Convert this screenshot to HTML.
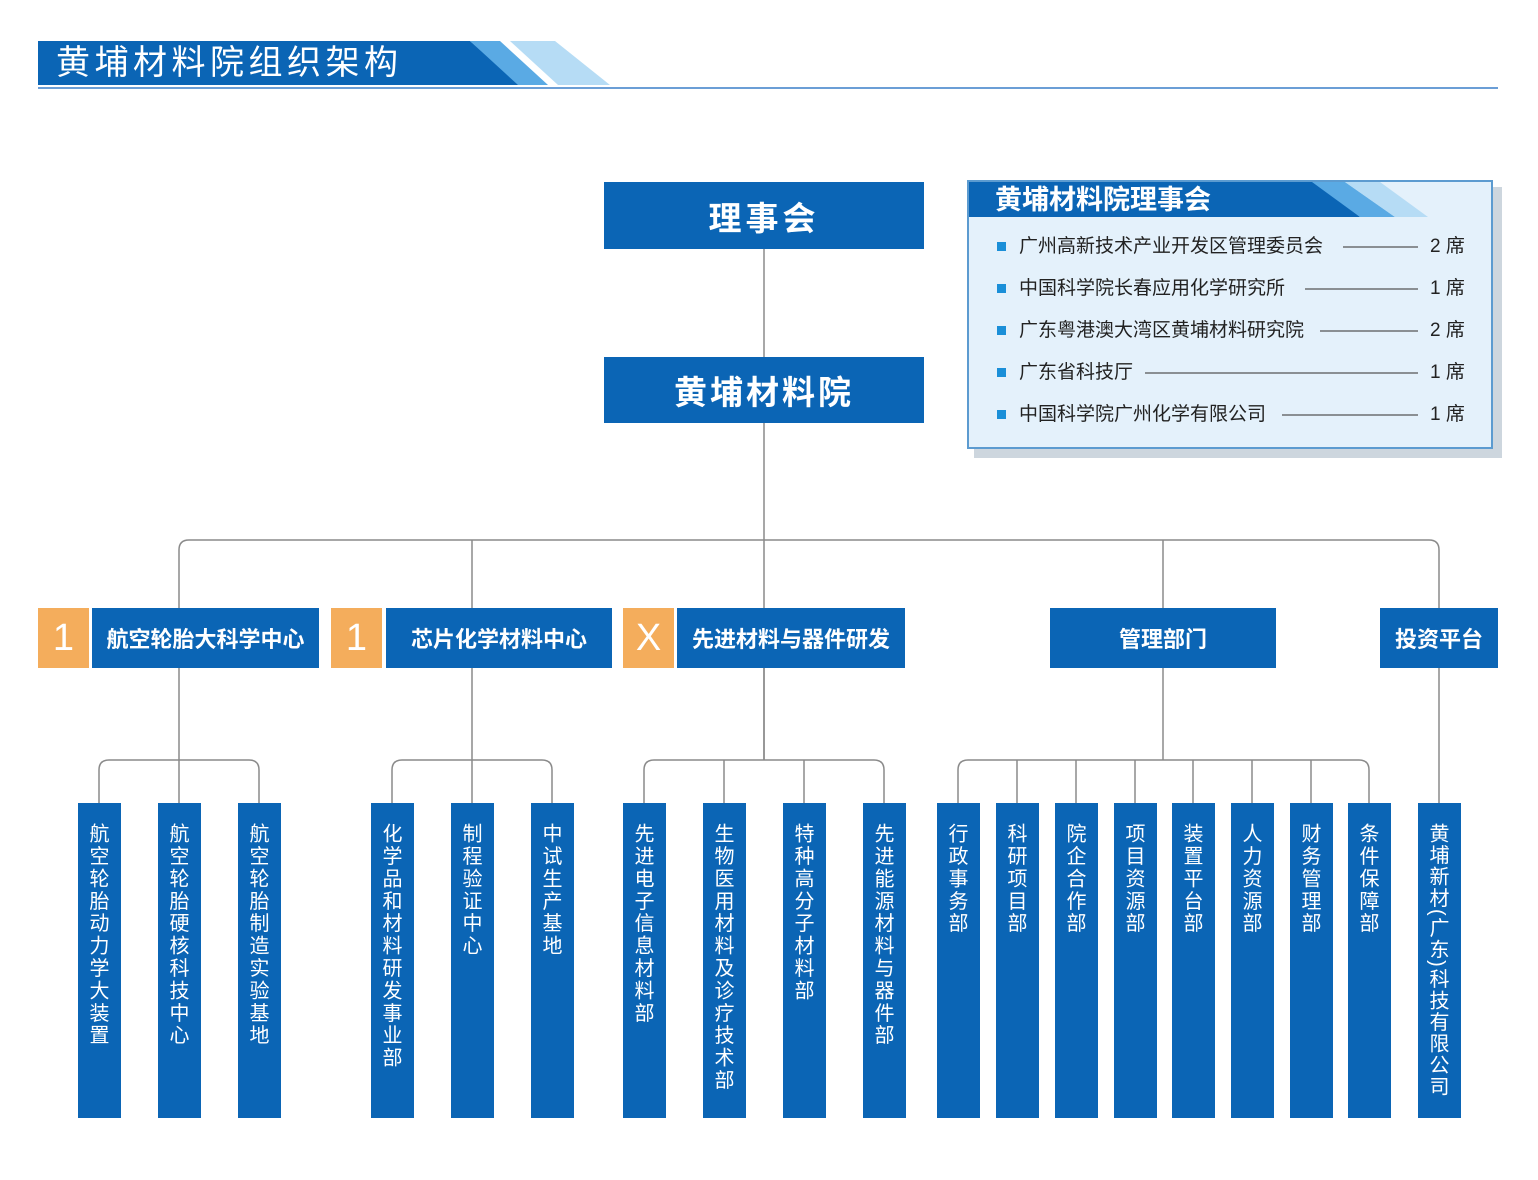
<!DOCTYPE html>
<html><head><meta charset="utf-8"><style>
*{margin:0;padding:0;box-sizing:border-box}
body{width:1538px;height:1180px;background:#fff;position:relative;overflow:hidden;font-family:"Liberation Sans","Noto Sans CJK SC",sans-serif}
.a{position:absolute}
.b{position:absolute;background:#0b65b5;color:#fff;display:flex;align-items:center;justify-content:center;font-weight:bold}
.o{position:absolute;background:#f4ad5c;color:#fff;display:flex;align-items:center;justify-content:center;font-size:38px;top:608px;height:60px;width:51px}
.v{position:absolute;background:#0b65b5;color:#fff;top:803px;height:315px;width:43px;font-size:20px;writing-mode:vertical-rl;text-orientation:mixed;letter-spacing:2.4px;line-height:37px;padding-right:6px;padding-top:20px}
.l2{top:608px;height:60px;font-size:22px}
.it{position:absolute;left:997px;font-size:19px;color:#222;height:22px;line-height:22px}
.it i{position:absolute;left:0;top:6px;width:9px;height:9px;background:#1a8fd8}
.it span{position:absolute;left:22px;white-space:nowrap}
</style></head><body>
<svg class="a" style="left:0;top:0" width="1538" height="1180">
<polygon points="38,41 470,41 520,85 38,85" fill="#0b65b5"/>
<polygon points="470,41 500,41 548,85 518,85" fill="#5aaae4"/>
<polygon points="510,41 555,41 610,85 558,85" fill="#b6dcf5"/>
<line x1="38" y1="88" x2="1498" y2="88" stroke="#3a7fc8" stroke-width="1.5"/>
<g stroke="#8a8a8a" stroke-width="1.5" fill="none">
<line x1="764" y1="249" x2="764" y2="357"/>
<line x1="764" y1="423" x2="764" y2="760"/>
<path d="M179,608 V550 Q179,540 189,540 H1429 Q1439,540 1439,550 V608"/>
<line x1="472" y1="540" x2="472" y2="608"/>
<line x1="1163" y1="540" x2="1163" y2="608"/>
<line x1="179" y1="668" x2="179" y2="803"/>
<path d="M99,803 V770 Q99,760 109,760 H249 Q259,760 259,770 V803"/>
<line x1="472" y1="668" x2="472" y2="803"/>
<path d="M392,803 V770 Q392,760 402,760 H542 Q552,760 552,770 V803"/>
<line x1="764" y1="668" x2="764" y2="760"/>
<path d="M644,803 V770 Q644,760 654,760 H874 Q884,760 884,770 V803"/>
<line x1="724" y1="760" x2="724" y2="803"/><line x1="804" y1="760" x2="804" y2="803"/>
<line x1="1163" y1="668" x2="1163" y2="760"/>
<path d="M958,803 V770 Q958,760 968,760 H1359 Q1369,760 1369,770 V803"/>
<line x1="1017" y1="760" x2="1017" y2="803"/><line x1="1076" y1="760" x2="1076" y2="803"/>
<line x1="1135" y1="760" x2="1135" y2="803"/><line x1="1193" y1="760" x2="1193" y2="803"/>
<line x1="1252" y1="760" x2="1252" y2="803"/><line x1="1311" y1="760" x2="1311" y2="803"/>
<line x1="1439" y1="668" x2="1439" y2="803"/>
</g>
<rect x="974" y="187" width="528" height="271" fill="#cdd6de"/>
<rect x="968" y="181" width="524" height="267" fill="#e4f1fb" stroke="#5c9bd0" stroke-width="2"/>
<polygon points="969,182 1320,182 1360,217 969,217" fill="#0b65b5"/>
<polygon points="1312,182 1345,182 1395,217 1360,217" fill="#5aaae4"/>
<polygon points="1345,182 1380,182 1428,217 1395,217" fill="#b6dcf5"/>
<g stroke="#555" stroke-width="1.3">
<line x1="1343" y1="247" x2="1418" y2="247"/>
<line x1="1305" y1="289" x2="1418" y2="289"/>
<line x1="1320" y1="331" x2="1418" y2="331"/>
<line x1="1145" y1="373" x2="1418" y2="373"/>
<line x1="1282" y1="415" x2="1418" y2="415"/>
</g>
</svg>
<div class="a" style="left:56px;top:42px;font-size:34px;color:#fff;letter-spacing:4.5px;line-height:42px">黄埔材料院组织架构</div>
<div class="a" style="left:995px;top:183px;font-size:27px;color:#fff;font-weight:bold;line-height:34px">黄埔材料院理事会</div>
<div class="it" style="top:236px"><i></i><span>广州高新技术产业开发区管理委员会</span><span style="left:433px">2 席</span></div>
<div class="it" style="top:278px"><i></i><span>中国科学院长春应用化学研究所</span><span style="left:433px">1 席</span></div>
<div class="it" style="top:320px"><i></i><span>广东粤港澳大湾区黄埔材料研究院</span><span style="left:433px">2 席</span></div>
<div class="it" style="top:362px"><i></i><span>广东省科技厅</span><span style="left:433px">1 席</span></div>
<div class="it" style="top:404px"><i></i><span>中国科学院广州化学有限公司</span><span style="left:433px">1 席</span></div>

<div class="b" style="left:604px;top:182px;width:320px;height:67px;font-size:33px;letter-spacing:4px">理事会</div>
<div class="b" style="left:604px;top:357px;width:320px;height:66px;font-size:33px;letter-spacing:3px">黄埔材料院</div>

<div class="o" style="left:38px">1</div><div class="b l2" style="left:92px;width:227px">航空轮胎大科学中心</div>
<div class="o" style="left:331px">1</div><div class="b l2" style="left:386px;width:226px">芯片化学材料中心</div>
<div class="o" style="left:623px">X</div><div class="b l2" style="left:677px;width:228px">先进材料与器件研发</div>
<div class="b l2" style="left:1050px;width:226px">管理部门</div>
<div class="b l2" style="left:1380px;width:118px">投资平台</div>

<div class="v" style="left:78px">航空轮胎动力学大装置</div>
<div class="v" style="left:158px">航空轮胎硬核科技中心</div>
<div class="v" style="left:238px">航空轮胎制造实验基地</div>
<div class="v" style="left:371px">化学品和材料研发事业部</div>
<div class="v" style="left:451px">制程验证中心</div>
<div class="v" style="left:531px">中试生产基地</div>
<div class="v" style="left:623px">先进电子信息材料部</div>
<div class="v" style="left:703px">生物医用材料及诊疗技术部</div>
<div class="v" style="left:783px">特种高分子材料部</div>
<div class="v" style="left:863px">先进能源材料与器件部</div>
<div class="v" style="left:937px">行政事务部</div>
<div class="v" style="left:996px">科研项目部</div>
<div class="v" style="left:1055px">院企合作部</div>
<div class="v" style="left:1114px">项目资源部</div>
<div class="v" style="left:1172px">装置平台部</div>
<div class="v" style="left:1231px">人力资源部</div>
<div class="v" style="left:1290px">财务管理部</div>
<div class="v" style="left:1348px">条件保障部</div>
<div class="v" style="left:1418px;letter-spacing:1.5px">黄埔新材(广东)科技有限公司</div>
</body></html>
